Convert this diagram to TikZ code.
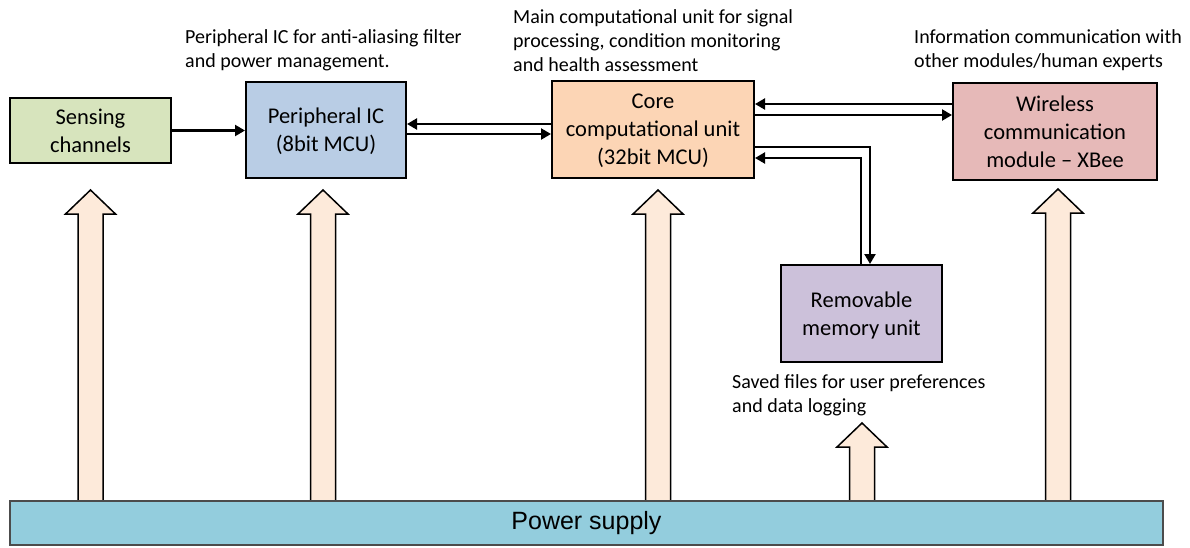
\documentclass[tikz,border=0pt]{standalone}
\usepackage{fontspec}
\setmainfont{Carlito}
\newfontfamily\arialfont{Liberation Sans}
\usetikzlibrary{arrows.meta}
\definecolor{cgreen}{HTML}{D7E4BD}
\definecolor{cblue}{HTML}{B9CDE5}
\definecolor{corange}{HTML}{FCD5B5}
\definecolor{cpink}{HTML}{E6B9B8}
\definecolor{cpurple}{HTML}{CCC1DA}
\definecolor{cfat}{HTML}{FDEADA}
\definecolor{cpower}{HTML}{93CDDD}
\tikzset{
  blockbox/.style={draw=black, line width=2pt, align=center, inner sep=2pt, text depth=0pt,
    font=\fontsize{22.5}{28}\selectfont},
  note/.style={align=left, inner sep=0pt, anchor=west,
    font=\fontsize{20}{24}\selectfont},
  conn/.style={line width=2.2pt, -{Triangle[length=10pt,width=11pt]}},
  fat/.style={draw=black, line width=1.5pt, fill=cfat, line join=miter},
}
\newcommand{\fatarrow}[2]{%
  \draw[fat] ({#1-12.5},501) -- ({#1-12.5},{#2+24}) -- ({#1-25},{#2+24}) -- (#1,#2)
    -- ({#1+25},{#2+24}) -- ({#1+12.5},{#2+24}) -- ({#1+12.5},501) -- cycle;}
\begin{document}
\begin{tikzpicture}[x=1pt,y=-1pt]
\useasboundingbox (0,0) rectangle (1190,547);
% fat power arrows
\fatarrow{90.5}{190}
\fatarrow{323}{190}
\fatarrow{658}{190}
\fatarrow{862}{423}
\fatarrow{1058}{189}
% boxes
\node[blockbox, fill=cgreen, minimum width=161pt, minimum height=65pt] (sensing) at (90.5,130.5) {Sensing\\channels};
\node[blockbox, fill=cblue, minimum width=160pt, minimum height=96pt] (peripheral) at (326,130) {Peripheral IC\\(8bit MCU)};
\node[blockbox, fill=corange, minimum width=202pt, minimum height=97pt] (core) at (653,129.5) {Core\\computational unit\\(32bit MCU)};
\node[blockbox, fill=cpink, minimum width=204pt, minimum height=97pt] (wireless) at (1055,131.5) {Wireless\\communication\\module -- XBee};
\node[blockbox, fill=cpurple, minimum width=161pt, minimum height=97pt] (memory) at (861.5,313.5) {Removable\\memory unit};
\node[draw=black!70, line width=1.5pt, fill=cpower, minimum width=1153pt, minimum height=44pt, inner sep=0pt,
  font=\arialfont\fontsize{25}{30}\selectfont] (power) at (586.5,523) {Power supply};
% annotations
\node[note] (notep) at (185,50.5) {Peripheral IC for anti-aliasing filter\\and power management.};
\node[note] (notec) at (513,41) {Main computational unit for signal\\processing, condition monitoring\\and health assessment};
\node[note] (notew) at (914,50.5) {Information communication with\\other modules/human experts};
\node[note] (notem) at (732,395) {Saved files for user preferences\\and data logging};
% connectors
\draw[conn] (sensing.east) -- (sensing.east -| peripheral.west);
\draw[conn] (core.west |- 0,124) -- (peripheral.east |- 0,124);
\draw[conn] (peripheral.east |- 0,134) -- (core.west |- 0,134);
\draw[conn] (wireless.west |- 0,104) -- (core.east |- 0,104);
\draw[conn] (core.east |- 0,115) -- (wireless.west |- 0,115);
\draw[conn] (core.east |- 0,147) -| (memory.north -| 870,0);
\draw[conn] (memory.north -| 861,0) |- (core.east |- 0,158);
\end{tikzpicture}
\end{document}
